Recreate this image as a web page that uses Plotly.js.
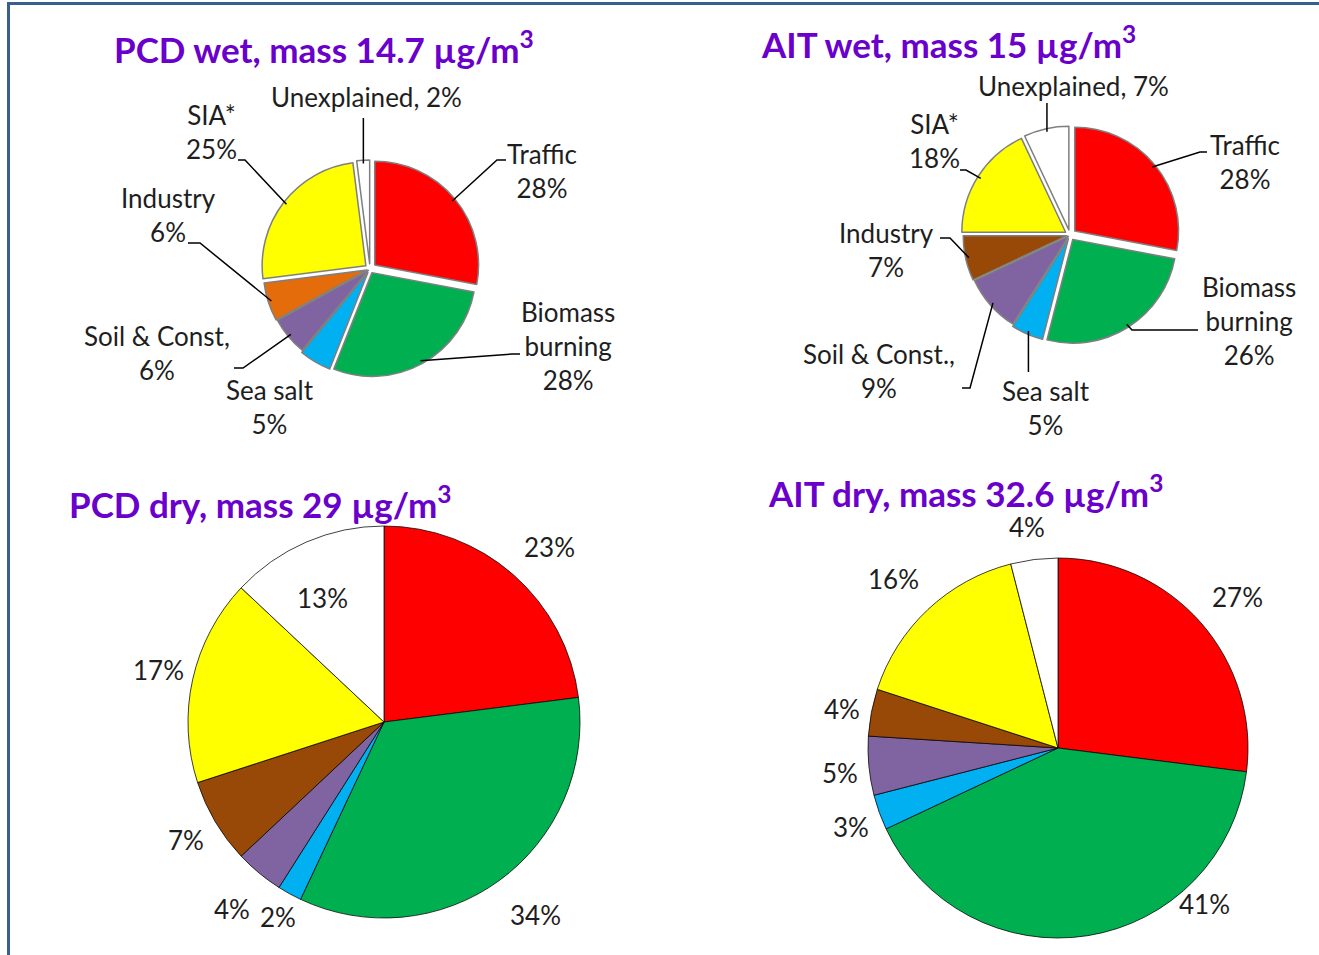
<!DOCTYPE html>
<html>
<head>
<meta charset="utf-8">
<script src="https://cdn.plot.ly/plotly-3.0.1.min.js"></script>
<style>html,body{margin:0;padding:0;background:#fff;}#chart{width:1319px;height:955px;}</style>
</head>
<body>
<div id="chart"></div>
<script>
// ---------------- DATA ----------------
const sources = ['Traffic','Biomass burning','Sea salt','Soil & Const.','Industry','SIA*','Unexplained'];

const pcdWetLabels = ['Traffic','Biomass<br>burning','Sea salt','Soil & Const,','Industry','SIA*','Unexplained,'];
const aitWetLabels = ['Traffic','Biomass<br>burning','Sea salt','Soil & Const.,','Industry','SIA*','Unexplained,'];

const pcdWetValues = [28, 28, 5, 6, 6, 25, 2];
const aitWetValues = [28, 26, 5, 9, 7, 18, 7];
const pcdDryValues = [23, 34, 2, 4, 7, 17, 13];
const aitDryValues = [27, 41, 3, 5, 4, 16, 4];

const titles = ['PCD wet, mass 14.7 µg/m<sup>3</sup>', 'AIT wet, mass 15 µg/m<sup>3</sup>',
                'PCD dry, mass 29 µg/m<sup>3</sup>', 'AIT dry, mass 32.6 µg/m<sup>3</sup>'];

// ---------------- STYLE / LAYOUT ----------------
const W = 1319, H = 955;
const FONT = "Lato, 'Open Sans', sans-serif";
const TXT = '#1e1e1e';
const colorsA = ['#ff0000','#00b050','#00b0f0','#8064a2','#e46c0a','#ffff00','#ffffff'];
const colorsB = ['#ff0000','#00b050','#00b0f0','#8064a2','#984807','#ffff00','#ffffff'];

function px2x(x){ return x / W; }
function px2y(y){ return 1 - y / H; }

// pie geometry: center + total radius (px)
const pies = [
  {name:'pcdWet', values:pcdWetValues, labels:pcdWetLabels, colors:colorsA, cx:370, cy:269, R:110,
   pull:[0.06,0.04,0.04,0.02,0.03,0.05,0.05], line:{color:'#7f7f7f', width:1.5},
   title:{x:324, y:47},
   lab:[ // text centre, leader: elbow, end ; sep
     {x:542,y:171,sep:'<br>',lead:[[497,160],[506,160]]},
     {x:568,y:346,sep:'<br>',lead:[[512,354],[520,354]]},
     {x:270,y:407,sep:'<br>',lead:null},
     {x:157,y:353,sep:'<br>',lead:[[243,368],[234,368]]},
     {x:168,y:215,sep:'<br>',lead:[[200,243],[188,243]]},
     {x:211,y:132,sep:'<br>',lead:[[245,160],[238,160]]},
     {x:367,y:97, sep:' ',   lead:[[null,118],[null,118]]}
   ]},
  {name:'aitWet', values:aitWetValues, labels:aitWetLabels, colors:colorsB, cx:1070, cy:235, R:110,
   pull:[0.06,0.05,0.04,0.02,0.03,0.05,0.05], line:{color:'#7f7f7f', width:1.5},
   title:{x:948, y:42},
   lab:[
     {x:1245,y:162,sep:'<br>',lead:[[1200,152],[1207,152]]},
     {x:1249,y:321,sep:'<br>',lead:[[1132,330],[1198,330]]},
     {x:1046,y:408,sep:'<br>',lead:[[null,372],[null,372]]},
     {x:879, y:371,sep:'<br>',lead:[[970,388],[962,388]]},
     {x:886, y:250,sep:'<br>',lead:[[950,238],[940,238]]},
     {x:935, y:141,sep:'<br>',lead:[[966,170],[960,170]]},
     {x:1073,y:86, sep:' ',   lead:[[null,103],[null,103]]}
   ]},
  {name:'pcdDry', values:pcdDryValues, labels:null, colors:colorsB, cx:384, cy:722, R:196,
   pull:null, line:{color:'#000000', width:0.75},
   title:{x:260, y:502},
   lab:[{x:549,y:547},{x:535,y:915},{x:278,y:917},{x:232,y:909},{x:186,y:840},{x:158,y:670},{x:322,y:598}]},
  {name:'aitDry', values:aitDryValues, labels:null, colors:colorsB, cx:1058, cy:748, R:190,
   pull:null, line:{color:'#000000', width:0.75},
   title:{x:965, y:491},
   lab:[{x:1237,y:597},{x:1204,y:904},{x:851,y:827},{x:840,y:773},{x:842,y:709},{x:893,y:579},{x:1027,y:527}]}
];

const traces = [], annotations = [], shapes = [];

// frame
shapes.push({type:'line', xref:'paper', yref:'paper', x0:px2x(8.5), x1:px2x(8.5), y0:px2y(2), y1:px2y(955),
             line:{color:'#3a5f8d', width:3}});
shapes.push({type:'line', xref:'paper', yref:'paper', x0:px2x(7), x1:px2x(1319), y0:px2y(3.5), y1:px2y(3.5),
             line:{color:'#3a5f8d', width:3}});

pies.forEach((p, k) => {
  const maxPull = p.pull ? Math.max(...p.pull) : 0;
  traces.push({
    type:'pie', values:p.values, labels:sources, sort:false, direction:'clockwise', rotation:0,
    textinfo:'none', hoverinfo:'label+percent', showlegend:false,
    pull:p.pull || 0,
    marker:{colors:p.colors, line:p.line},
    domain:{x:[px2x(p.cx - p.R), px2x(p.cx + p.R)], y:[px2y(p.cy + p.R), px2y(p.cy - p.R)]}
  });

  annotations.push({xref:'paper', yref:'paper', x:px2x(p.title.x), y:px2y(p.title.y),
    xanchor:'center', yanchor:'middle', showarrow:false, text:'<b>' + titles[k] + '</b>',
    font:{family:FONT, size:35, color:'#6a00cc'}});

  const total = p.values.reduce((a,b)=>a+b,0);
  const r = p.R / (1 + maxPull);
  let cum = 0;
  p.values.forEach((v, i) => {
    const L = p.lab[i];
    const txt = p.labels ? (p.labels[i] + L.sep + v + '%') : (v + '%');
    annotations.push({xref:'paper', yref:'paper', x:px2x(L.x), y:px2y(L.y),
      xanchor:'center', yanchor:'middle', showarrow:false, text:txt, align:'center',
      font:{family:FONT, size:26, color:TXT}});
    const mid = 2 * Math.PI * (cum + v / 2) / total;
    cum += v;
    if (L.lead) {
      const rr = r * (1 + (p.pull ? p.pull[i] : 0)) * 0.97;
      const ex = p.cx + rr * Math.sin(mid), ey = p.cy - rr * Math.cos(mid);
      const e1x = L.lead[0][0] === null ? ex : L.lead[0][0];
      const e2x = L.lead[1][0] === null ? ex : L.lead[1][0];
      const path = 'M' + px2x(ex) + ',' + px2y(ey) +
                   ' L' + px2x(e1x) + ',' + px2y(L.lead[0][1]) +
                   ' L' + px2x(e2x) + ',' + px2y(L.lead[1][1]);
      shapes.push({type:'path', xref:'paper', yref:'paper', path:path, line:{color:'#000000', width:1.5}});
    }
  });
});

const layout = {
  width:W, height:H, margin:{l:0, r:0, t:0, b:0},
  paper_bgcolor:'#ffffff', plot_bgcolor:'#ffffff', showlegend:false,
  font:{family:FONT, color:TXT},
  annotations:annotations, shapes:shapes
};

Plotly.newPlot('chart', traces, layout, {displayModeBar:false, staticPlot:true});
</script>
</body>
</html>
